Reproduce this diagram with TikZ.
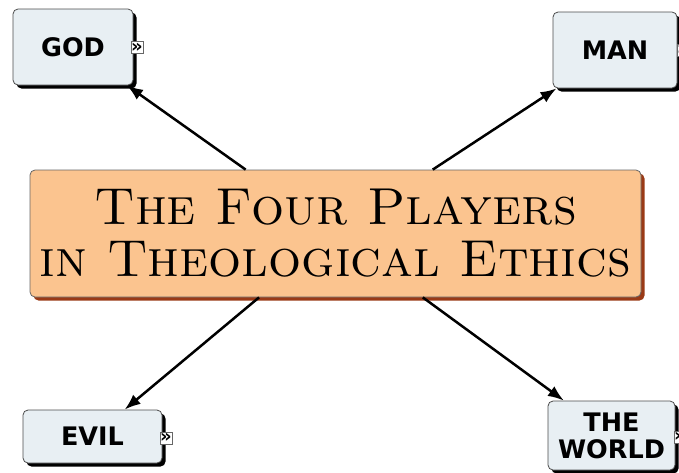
\documentclass[tikz,border=0pt]{standalone}
\usepackage{fontspec}
\usepackage{xcolor}
\usetikzlibrary{shapes,arrows.meta,positioning,calc,shadows}
\newfontfamily\labelfont{DejaVu Sans}
\definecolor{playerfill}{HTML}{E8EFF3}
\definecolor{titlefill}{HTML}{FBC48F}
\definecolor{titleshadow}{HTML}{9A3A16}
\tikzset{
    player/.style={draw=black!70, fill=playerfill, rounded corners=5pt, line width=0.8pt,
        drop shadow={shadow xshift=3.5pt, shadow yshift=-3.5pt, fill=black, opacity=1},
        font=\labelfont\bfseries\fontsize{25.5}{27}\selectfont, align=center, inner sep=0pt},
    more/.style={draw=black!60, fill=white, minimum size=12pt, inner sep=0pt,
        font=\labelfont\bfseries\fontsize{18}{18}\selectfont}
}
\begin{document}
\begin{tikzpicture}[x=1pt, y=-1pt, >={Latex[length=16pt,width=12pt]}]
    \useasboundingbox (0,0) rectangle (679,472);
    \node (title) [draw=black!60, fill=titlefill, rounded corners=5pt, line width=0.8pt,
        drop shadow={shadow xshift=3.5pt, shadow yshift=-3.5pt, fill=titleshadow, opacity=1},
        minimum width=611pt, minimum height=127pt, align=center,
        font=\scshape\fontsize{52}{52}\selectfont] at (335.5,233.5) {The Four Players\\in Theological Ethics};
    \node (god) [player, minimum width=120pt, minimum height=76pt] at (73,47) {GOD};
    \node (man) [player, minimum width=124pt, minimum height=76pt] at (615,50) {MAN};
    \node (evil) [player, minimum width=139pt, minimum height=53pt] at (92.5,436.5) {EVIL};
    \node (world) [player, minimum width=127pt, minimum height=69pt] at (611.5,435.5) {THE\\WORLD};
    % small expand marks
    \node (godmore) [more] at (137,47.5) {»};
    \node (manmore) [more] at (683,50) {»};
    \node (evilmore) [more] at (166,438) {»};
    \node (worldmore) [more] at (680,437) {»};

    \draw [->, line width=2.5pt] (title) -- (god);
    \draw [->, line width=2.5pt] (title) -- (man);
    \draw [->, line width=2.5pt] (title) -- (evil);
    \draw [->, line width=2.5pt] (title) -- (world);
\end{tikzpicture}
\end{document}
